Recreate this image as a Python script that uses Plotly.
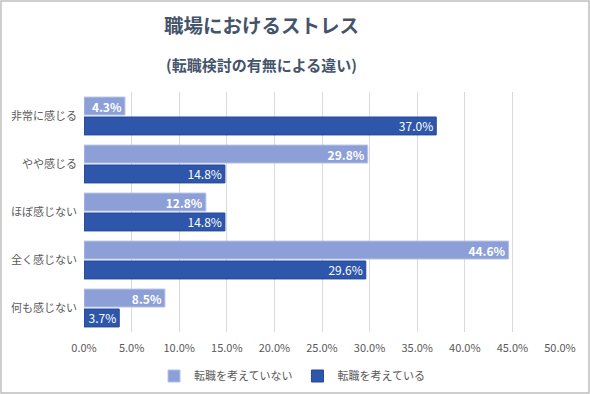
import plotly.graph_objects as go

categories = ["非常に感じる", "やや感じる", "ほぼ感じない", "全く感じない", "何も感じない"]
not_considering = [4.3, 29.8, 12.8, 44.6, 8.5]
considering = [37.0, 14.8, 14.8, 29.6, 3.7]
series_names = ["転職を考えていない", "転職を考えている"]
tick_vals = [0, 5, 10, 15, 20, 25, 30, 35, 40, 45, 50]
tick_text = [f"{v:.1f}%" for v in tick_vals]

W, H = 590, 394
ML, MR, MT, MB = 84, 30, 92, 62
FONT = "Noto Sans CJK JP"
pw, ph = W - ML - MR, H - MT - MB

fig = go.Figure()
fig.add_trace(go.Bar(
    y=categories, x=not_considering, orientation="h", name=series_names[0],
    marker=dict(color="#8C9FD6", line=dict(color="#B4C2E8", width=1)),
    text=[f"{v:.1f}%" for v in not_considering], textposition="inside",
    insidetextanchor="end", constraintext="none",
    textfont=dict(color="white", size=12, family=FONT, weight="bold"),
))
fig.add_trace(go.Bar(
    y=categories, x=considering, orientation="h", name=series_names[1],
    marker=dict(color="#2E56AA", line=dict(color="#24479A", width=1)),
    text=[f"{v:.1f}%" for v in considering], textposition="inside",
    insidetextanchor="end", constraintext="none",
    textfont=dict(color="white", size=12, family=FONT),
))

fig.update_layout(
    width=W, height=H,
    margin=dict(l=ML, r=MR, t=MT, b=MB, autoexpand=False),
    paper_bgcolor="white", plot_bgcolor="white",
    font=dict(family=FONT, color="#595959", size=11),
    barmode="group", bargap=0.17, bargroupgap=0.1,
    showlegend=True,
    legend=dict(orientation="h", x=(292 - ML) / pw, xanchor="center",
                yref="container", y=1 - 376 / H, yanchor="middle",
                font=dict(size=11, color="#595959"), itemwidth=30,
                traceorder="normal"),
)
fig.update_xaxes(range=[0, 50], tickvals=tick_vals, ticktext=tick_text,
                 showgrid=True, gridcolor="#D9D9D9", gridwidth=1, zeroline=False,
                 showline=False, automargin=False, ticklabelstandoff=8,
                 tickfont=dict(size=11, color="#595959"))
fig.update_yaxes(autorange="reversed", showgrid=False, showline=False,
                 ticks="", ticklabelstandoff=6, automargin=False,
                 tickfont=dict(size=11, color="#595959"))

TX = (261 - ML) / pw
fig.add_annotation(text="<b>職場におけるストレス</b>", xref="paper", yref="paper",
                   x=TX, y=1 + (MT - 25) / ph,
                   showarrow=False, yanchor="middle",
                   font=dict(size=19.5, color="#44546A", family=FONT))
fig.add_annotation(text="<b>(転職検討の有無による違い)</b>", xref="paper", yref="paper",
                   x=TX, y=1 + (MT - 65) / ph,
                   showarrow=False, yanchor="middle",
                   font=dict(size=15, color="#44546A", family=FONT))

fig.add_shape(type="rect", xref="paper", yref="paper",
              x0=(-ML + 1) / pw, x1=1 + (MR - 1) / pw,
              y0=(-MB + 1) / ph, y1=1 + (MT - 1) / ph,
              line=dict(color="#BFBFBF", width=1.5), layer="below")

fig.write_html("out.html", config={"displayModeBar": False},
               post_script="document.body.style.margin='0';")
